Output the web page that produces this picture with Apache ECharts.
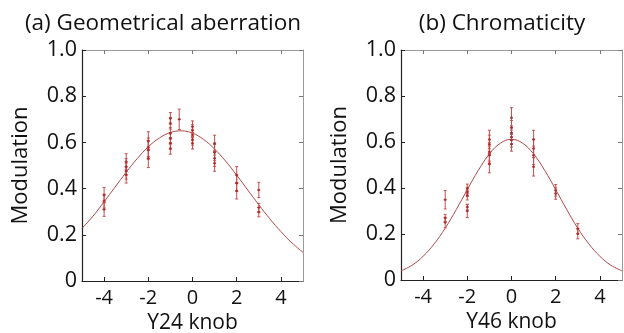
<!DOCTYPE html>
<html><head><meta charset="utf-8">
<script src="https://cdn.jsdelivr.net/npm/echarts@6/dist/echarts.min.js"></script>
<style>html,body{margin:0;padding:0;background:#fff}#c{width:624px;height:333px}</style>
</head><body><div id="c"></div>
<script>
// Panel titles and axis labels
const titles = ['(a) Geometrical aberration', '(b) Chromaticity'];
const xNames = ['Y24 knob', 'Y46 knob'];
const yName = 'Modulation';
const xTicks = [-4, -2, 0, 2, 4];
const yTicks = [0, 0.2, 0.4, 0.6, 0.8, 1.0];

// (a) measurements: knob setting, modulation, error half-width
const aX = [-4,-4,-4, -3,-3,-3,-3, -2,-2,-2,-2, -1,-1,-1,-1,-1,-1, -0.6, 0,0,0,0,0, 1,1,1,1, 2,2,2, 3,3,3];
const aY = [0.372,0.346,0.310, 0.516,0.495,0.476,0.459, 0.606,0.579,0.567,0.531, 0.704,0.683,0.639,0.618,0.596,0.574, 0.700, 0.668,0.651,0.632,0.613,0.596, 0.596,0.556,0.531,0.510, 0.459,0.423,0.391, 0.394,0.318,0.298];
const aErr = [0.033,0.030,0.030, 0.035,0.035,0.035,0.035, 0.040,0.040,0.040,0.040, 0.025,0.025,0.025,0.025,0.025,0.025, 0.044, 0.025,0.025,0.025,0.025,0.025, 0.035,0.035,0.035,0.035, 0.036,0.036,0.036, 0.033,0.018,0.020];

// (b) measurements
const bX = [-3,-3,-3, -2,-2,-2,-2,-2, -1,-1,-1,-1,-1, 0,0,0,0,0,0, 1,1,1,1, 2,2, 3,3];
const bY = [0.349,0.270,0.250, 0.397,0.383,0.368,0.317,0.300, 0.611,0.590,0.557,0.542,0.506, 0.705,0.663,0.640,0.622,0.608,0.590, 0.611,0.572,0.542,0.492, 0.390,0.376, 0.223,0.201];
const bErr = [0.040,0.015,0.023, 0.020,0.020,0.020,0.012,0.029, 0.040,0.040,0.040,0.040,0.040, 0.044,0.030,0.030,0.030,0.030,0.030, 0.040,0.040,0.040,0.040, 0.025,0.025, 0.022,0.022];

// fitted curves
const curveX = [-5,-4.5,-4,-3.5,-3,-2.5,-2,-1.5,-1,-0.5,0,0.5,1,1.5,2,2.5,3,3.5,4,4.5,5];
const curveA = [0.228,0.281,0.343,0.407,0.471,0.530,0.581,0.619,0.643,0.650,0.640,0.613,0.571,0.519,0.458,0.394,0.330,0.269,0.214,0.165,0.124];
const curveB = [0.040,0.064,0.103,0.157,0.225,0.306,0.393,0.477,0.548,0.595,0.612,0.595,0.548,0.477,0.393,0.306,0.225,0.157,0.103,0.064,0.040];

const FONT = 'Open Sans';
const dotColor = '#a82020';
const barColor = '#c65050';
const lineColor = '#b04848';

const grids = [
  {left: 82, top: 50, width: 221, height: 231, containLabel: false, outerBoundsMode: 'none'},
  {left: 401, top: 50, width: 221, height: 230, containLabel: false, outerBoundsMode: 'none'}
];

const xAxes = [], yAxes = [];
[0, 1].forEach(g => {
  xAxes.push({
    type: 'value', gridIndex: g, min: -5, max: 5, position: 'bottom',
    name: xNames[g], nameLocation: 'middle', nameGap: 30,
    nameTextStyle: {fontFamily: FONT, fontSize: 21, color: '#111'},
    axisLine: {show: true, onZero: false, lineStyle: {color: '#222', width: 1.2}},
    axisTick: {show: true, inside: true, length: 4, customValues: xTicks, lineStyle: {color: '#222'}},
    axisLabel: {customValues: xTicks, fontFamily: FONT, fontSize: 20, color: '#111', margin: 7},
    splitLine: {show: false}
  });
  xAxes.push({
    type: 'value', gridIndex: g, min: -5, max: 5, position: 'top',
    axisLine: {show: true, onZero: false, lineStyle: {color: '#999', width: 1}},
    axisTick: {show: true, inside: true, length: 4, customValues: xTicks, lineStyle: {color: '#777'}},
    axisLabel: {show: false}, splitLine: {show: false}
  });
  yAxes.push({
    type: 'value', gridIndex: g, min: 0, max: 1, interval: 0.2, position: 'left',
    name: yName, nameLocation: 'middle', nameGap: 50,
    nameTextStyle: {fontFamily: FONT, fontSize: 22, color: '#111'},
    axisLine: {show: true, onZero: false, lineStyle: {color: '#222', width: 1.2}},
    axisTick: {show: true, inside: true, length: 4, lineStyle: {color: '#222'}},
    axisLabel: {fontFamily: FONT, fontSize: 21.5, color: '#111', margin: 5,
      formatter: v => v === 0 ? '0' : v.toFixed(1)},
    splitLine: {show: false}
  });
  yAxes.push({
    type: 'value', gridIndex: g, min: 0, max: 1, interval: 0.2, position: 'right',
    axisLine: {show: true, onZero: false, lineStyle: {color: '#999', width: 1}},
    axisTick: {show: true, inside: true, length: 4, lineStyle: {color: '#777'}},
    axisLabel: {show: false}, splitLine: {show: false}
  });
});

function errData(xs, ys, es) { return xs.map((x, i) => [x, ys[i], es[i]]); }
function ptData(xs, ys) { return xs.map((x, i) => [x, ys[i]]); }

function errRender(params, api) {
  const x = api.value(0), y = api.value(1), e = api.value(2);
  const hi = api.coord([x, y + e]);
  const lo = api.coord([x, y - e]);
  const mid = api.coord([x, y]);
  const c = 1.5;
  const st = {stroke: barColor, lineWidth: 1};
  return {type: 'group', children: [
    {type: 'line', shape: {x1: hi[0], y1: hi[1], x2: lo[0], y2: lo[1]}, style: st},
    {type: 'line', shape: {x1: hi[0]-c, y1: hi[1], x2: hi[0]+c, y2: hi[1]}, style: st},
    {type: 'line', shape: {x1: lo[0]-c, y1: lo[1], x2: lo[0]+c, y2: lo[1]}, style: st},
    {type: 'line', shape: {x1: mid[0]-c, y1: mid[1], x2: mid[0]+c, y2: mid[1]}, style: st}
  ]};
}

const series = [];
[[curveA, aX, aY, aErr], [curveB, bX, bY, bErr]].forEach((d, g) => {
  series.push({
    type: 'line', xAxisIndex: 2*g, yAxisIndex: 2*g, data: ptData(curveX, d[0]),
    smooth: 0.4, showSymbol: false, lineStyle: {color: lineColor, width: 1}, silent: true, z: 2
  });
  series.push({
    type: 'custom', xAxisIndex: 2*g, yAxisIndex: 2*g, data: errData(d[1], d[2], d[3]),
    renderItem: errRender, z: 3, silent: true
  });
  series.push({
    type: 'scatter', xAxisIndex: 2*g, yAxisIndex: 2*g, data: ptData(d[1], d[2]),
    symbol: 'circle', symbolSize: 2.5, itemStyle: {color: dotColor}, z: 4, silent: true
  });
});

const chart = echarts.init(document.getElementById('c'), null, {renderer: 'canvas'});
chart.setOption({
  animation: false,
  backgroundColor: '#fff',
  title: [
    {text: titles[0], left: 158, top: 7, textAlign: 'center',
     textStyle: {fontFamily: FONT, fontSize: 22.5, fontWeight: 'normal', color: '#111'}},
    {text: titles[1], left: 497, top: 7, textAlign: 'center',
     textStyle: {fontFamily: FONT, fontSize: 22.5, fontWeight: 'normal', color: '#111'}}
  ],
  grid: grids,
  xAxis: xAxes,
  yAxis: yAxes,
  series: series
});
</script></body></html>
